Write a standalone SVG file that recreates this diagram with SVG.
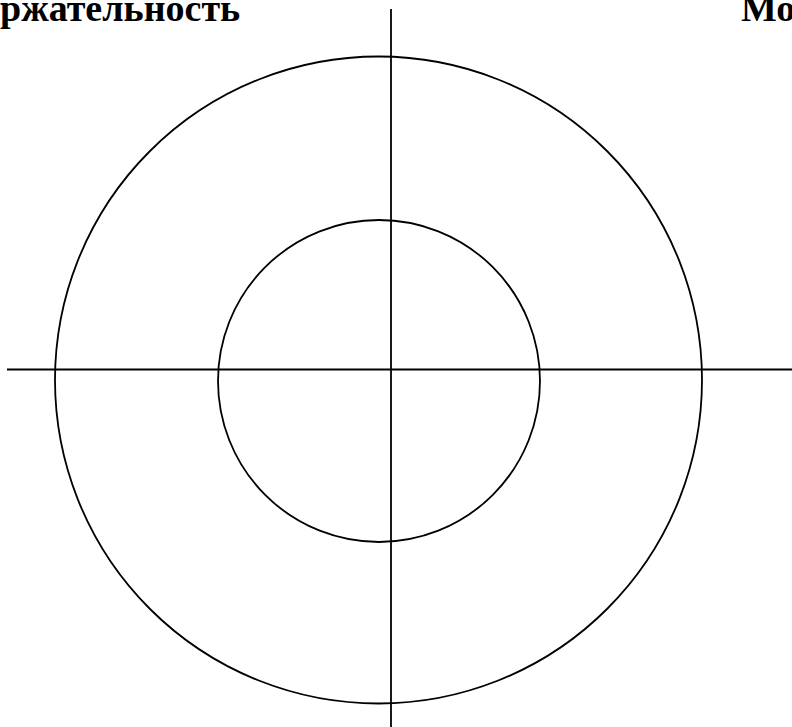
<svg xmlns="http://www.w3.org/2000/svg" width="792" height="727" viewBox="0 0 792 727">
<style>
.ln{stroke:#000;stroke-width:1.8;fill:none}
.lb{font-family:"Liberation Serif","Times New Roman",serif;font-weight:bold;font-size:38px;fill:#000}
</style>
<rect width="792" height="727" fill="#fff"/>
<g id="outer-circle"><circle class="ln" cx="378.5" cy="380" r="323.5"/></g>
<g id="inner-circle"><circle class="ln" cx="379" cy="381" r="161"/></g>
<g id="axes">
<line class="ln" x1="391" y1="9" x2="391" y2="727"/>
<line class="ln" x1="7" y1="369.5" x2="792" y2="369.5"/>
</g>
<g id="labels">
<text class="lb" x="0" y="21">ржательность</text>
<text class="lb" x="741" y="21">Мо</text>
</g>
</svg>
